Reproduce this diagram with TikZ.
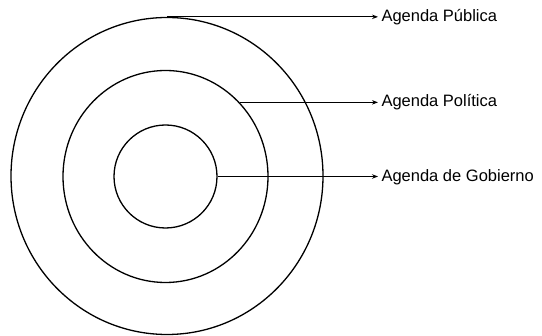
\documentclass[tikz,border=0pt]{standalone}
\usepackage{fontspec}
\setmainfont{Liberation Sans}
\usetikzlibrary{shapes.geometric,arrows.meta}

\begin{document}
\begin{tikzpicture}
[
x=1pt, y=-1pt,
ring/.style={ellipse, draw, line width=1.3pt, inner sep=0pt},
pointer/.style={-{Stealth[length=6pt,width=4.5pt]}, line width=1.1pt},
agenda/.style={anchor=west, font=\fontsize{16.5}{19}\selectfont}
]
\useasboundingbox (0,0) rectangle (542,336);

% the three rings
\node (outer) [ring, minimum width=312pt, minimum height=317pt] at (167,176) {};
\node (middle) [ring, minimum width=205pt, minimum height=212pt] at (165.5,176.5) {};
\node (inner) [ring, minimum width=103pt, minimum height=103pt] at (165.5,176.5) {};

% labels on the right
\node (pub) [agenda] at (378,17.5) {Agenda Pública};
\node (pol) [agenda] at (378,102.5) {Agenda Política};
\node (gob) [agenda] at (378,177) {Agenda de Gobierno};

\draw[pointer] (outer.north) -- (outer.north -| pub.west);
\draw[pointer] (middle.45) -- (middle.45 -| pol.west);
\draw[pointer] (inner.east) -- (inner.east -| gob.west);
\end{tikzpicture}
\end{document}
